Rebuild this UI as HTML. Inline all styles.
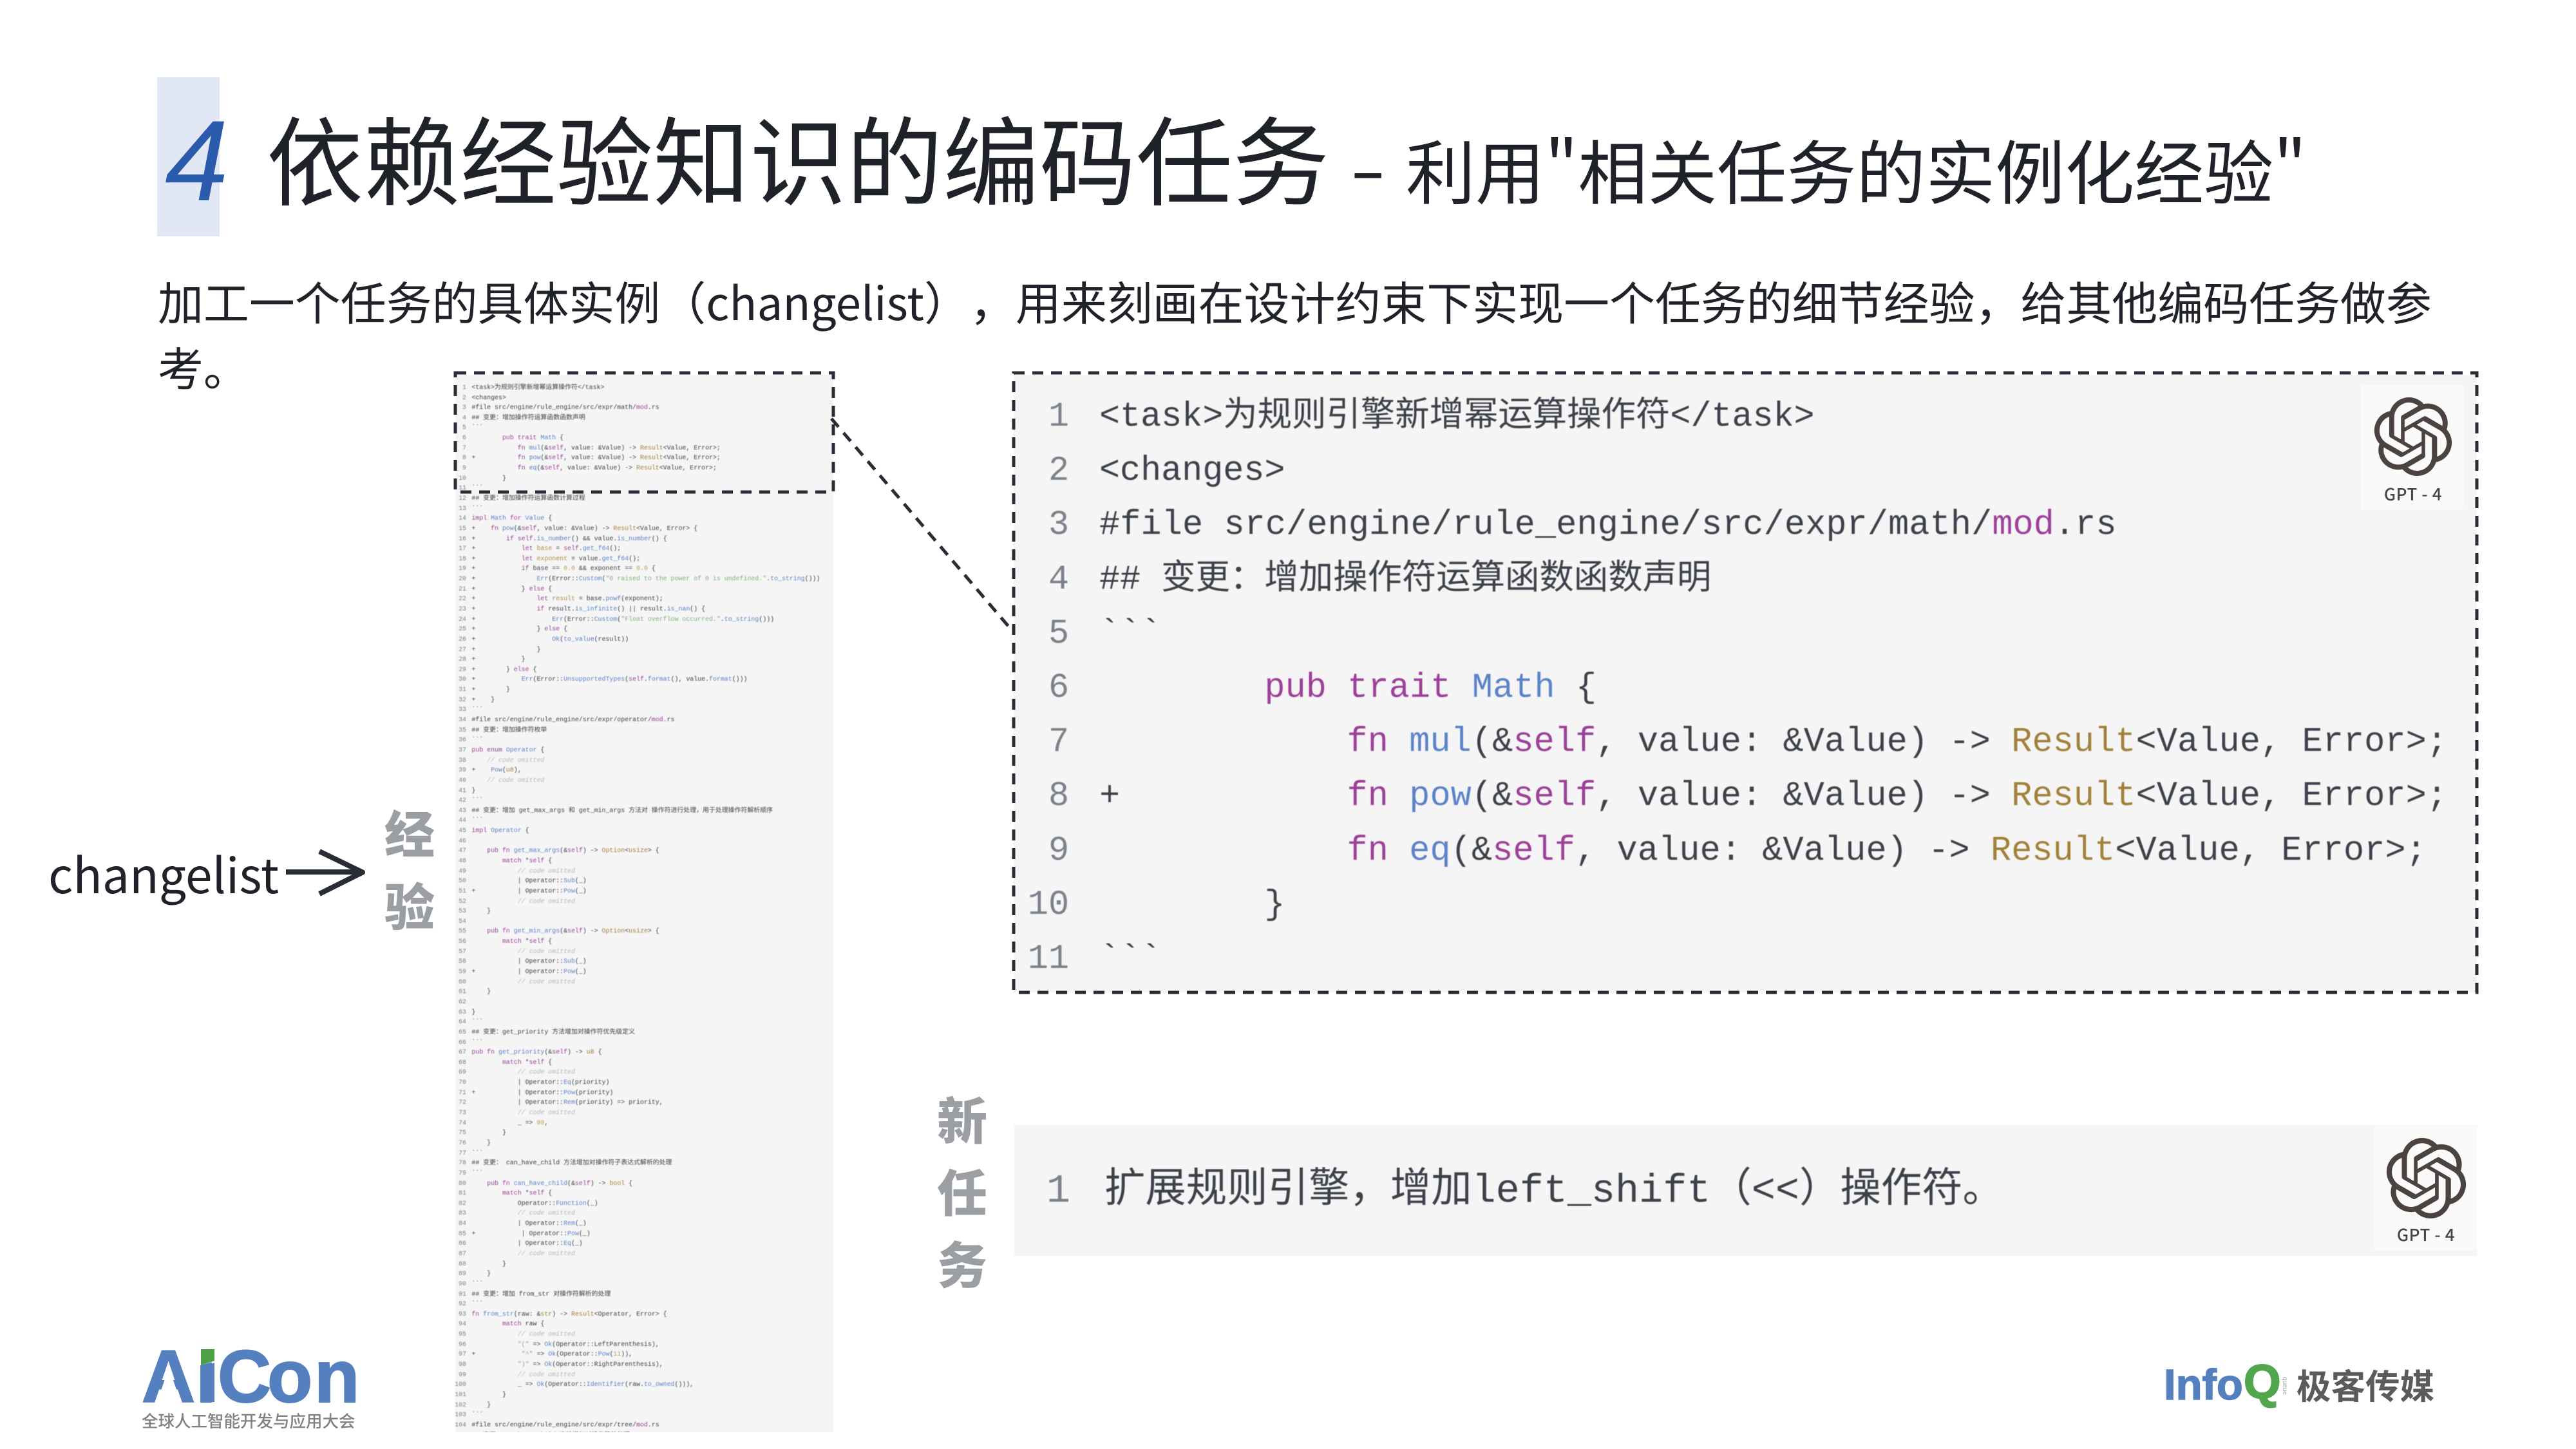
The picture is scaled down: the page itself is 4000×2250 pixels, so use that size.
<!DOCTYPE html>
<html lang="zh">
<head>
<meta charset="utf-8">
<title>依赖经验知识的编码任务</title>
<style>
html,body{margin:0;padding:0;background:#fff}
#p{position:relative;width:4000px;height:2250px;overflow:hidden;background:#fff;font-family:"Liberation Sans","Noto Sans CJK SC",sans-serif;color:#1f2329;text-spacing-trim:space-all}
#p>*{position:absolute}
.cjk{font-family:"Noto Sans CJK SC","Liberation Sans",sans-serif;white-space:pre;text-spacing-trim:space-all}
pre{margin:0;font-family:"Liberation Mono","Noto Sans CJK SC",monospace;color:#3c4048;text-spacing-trim:space-all}
i{font-style:normal}
.k{color:#9b3f98}.f{color:#5a82c8}.t{color:#a1803a}.s{color:#80b27c}.c{color:#b4b7bb;font-style:italic}.n{color:#bd9a4e}.v{color:#b58a4c}
.gut{color:#7b8189;text-align:right}
.sm{font-size:9.92px;line-height:15.645px;filter:blur(.45px)}
.bg{font-size:53.4px;line-height:84.2px;filter:blur(.4px)}
.w{letter-spacing:.2px}
.side{font-family:"Noto Sans CJK SC",sans-serif;font-weight:900;font-size:78px;line-height:78px;color:#9b9ea3;width:90px;text-align:center}
.gl{background:#fafafa}
.gt{font-family:"Noto Sans CJK SC",sans-serif;font-size:26px;line-height:30px;color:#4a4543;text-align:center;white-space:pre;font-weight:500;letter-spacing:.6px}
</style>
</head>
<body>
<div id="p">

<!-- header -->
<div style="left:244px;top:120px;width:97px;height:247px;background:#e1e7f5"></div>
<div style="left:256px;top:161px;font:italic 400 178px/178px 'Liberation Sans',sans-serif;color:#2a5bad">4</div>
<div class="cjk" style="left:414px;top:168px;font-size:150px;line-height:150px;color:#1f2329">依赖经验知识的编码任务</div>
<div class="cjk" style="left:2096px;top:203px;font-size:108px;line-height:108px;color:#1f2329;transform:scaleX(1.5);transform-origin:left center">-</div>
<div class="cjk" style="left:2183px;top:208px;font-size:108px;line-height:108px;color:#1f2329">利用"相关任务的实例化经验"</div>

<div class="cjk" style="left:245px;top:428px;font-size:70.95px;line-height:78px;color:#1f2329">加工一个任务的具体实例（changelist），用来刻画在设计约束下实现一个任务的细节经验，给其他编码任务做参</div>
<div class="cjk" style="left:245px;top:530px;font-size:70.95px;line-height:78px;color:#1f2329">考。</div>

<!-- changelist label -->
<div class="cjk" style="left:75px;top:1305px;font-size:75px;line-height:100px;color:#1f2329">changelist</div>
<svg style="left:0;top:0" width="4000" height="2250" viewBox="0 0 4000 2250">
  <path d="M444 1354H562" stroke="#282c34" stroke-width="8" fill="none"/>
  <path d="M496 1322L563 1354.500L496 1388" stroke="#282c34" stroke-width="8" fill="none" stroke-linejoin="round"/>
</svg>
<div class="side" style="left:591px;top:1252px">经</div>
<div class="side" style="left:591px;top:1365px">验</div>

<!-- left code image -->
<div style="left:707px;top:582px;width:587px;height:1642px;background:#f5f5f5"></div>
<div style="left:690px;top:582px;width:604px;height:1642px;overflow:hidden">
<pre class="sm gut" style="position:absolute;left:0;top:11.900px;width:34px">1
2
3
4
5
6
7
8
9
10
11
12
13
14
15
16
17
18
19
20
21
22
23
24
25
26
27
28
29
30
31
32
33
34
35
36
37
38
39
40
41
42
43
44
45
46
47
48
49
50
51
52
53
54
55
56
57
58
59
60
61
62
63
64
65
66
67
68
69
70
71
72
73
74
75
76
77
78
79
80
81
82
83
84
85
86
87
88
89
90
91
92
93
94
95
96
97
98
99
100
101
102
103
104
105</pre>
<pre class="sm" style="position:absolute;left:42.400px;top:11.900px">&lt;task&gt;为规则引擎新增幂运算操作符&lt;/task&gt;
&lt;changes&gt;
#file src/engine/rule_engine/src/expr/math/<i class=k>mod</i>.rs
## 变更：增加操作符运算函数函数声明
&#96;&#96;&#96;
        <i class=k>pub trait</i> <i class=f>Math</i> {
            <i class=k>fn</i> <i class=f>mul</i>(&amp;<i class=k>self</i>, value: &amp;Value) -&gt; <i class=t>Result</i>&lt;Value, Error&gt;;
+           <i class=k>fn</i> <i class=f>pow</i>(&amp;<i class=k>self</i>, value: &amp;Value) -&gt; <i class=t>Result</i>&lt;Value, Error&gt;;
            <i class=k>fn</i> <i class=f>eq</i>(&amp;<i class=k>self</i>, value: &amp;Value) -&gt; <i class=t>Result</i>&lt;Value, Error&gt;;
        }
&#96;&#96;&#96;
## 变更：增加操作符运算函数计算过程
&#96;&#96;&#96;
<i class=k>impl</i> <i class=f>Math</i> <i class=k>for</i> <i class=f>Value</i> {
+    <i class=k>fn</i> <i class=f>pow</i>(&amp;<i class=k>self</i>, value: &amp;Value) -&gt; <i class=t>Result</i>&lt;Value, Error&gt; {
+        <i class=k>if self</i>.<i class=f>is_number</i>() &amp;&amp; value.<i class=f>is_number</i>() {
+            <i class=k>let</i> <i class=v>base</i> = <i class=k>self</i>.<i class=f>get_f64</i>();
+            <i class=k>let</i> <i class=v>exponent</i> = value.<i class=f>get_f64</i>();
+            <i class=k>if</i> base == <i class=n>0.0</i> &amp;&amp; exponent == <i class=n>0.0</i> {
+                <i class=f>Err</i>(Error::<i class=f>Custom</i>(<i class=s>"0 raised to the power of 0 is undefined."</i>.<i class=f>to_string</i>()))
+            } <i class=k>else</i> {
+                <i class=k>let</i> <i class=v>result</i> = base.<i class=f>powf</i>(exponent);
+                <i class=k>if</i> result.<i class=f>is_infinite</i>() || result.<i class=f>is_nan</i>() {
+                    <i class=f>Err</i>(Error::<i class=f>Custom</i>(<i class=s>"Float overflow occurred."</i>.<i class=f>to_string</i>()))
+                } <i class=k>else</i> {
+                    <i class=f>Ok</i>(<i class=f>to_value</i>(result))
+                }
+            }
+        } <i class=k>else</i> {
+            <i class=f>Err</i>(Error::<i class=f>UnsupportedTypes</i>(<i class=k>self</i>.<i class=f>format</i>(), value.<i class=f>format</i>()))
+        }
+    }
&#96;&#96;&#96;
#file src/engine/rule_engine/src/expr/operator/<i class=k>mod</i>.rs
## 变更：增加操作符枚举
&#96;&#96;&#96;
<i class=k>pub enum</i> <i class=f>Operator</i> {
    <i class=c>// code omitted</i>
+    <i class=f>Pow</i>(<i class=t>u8</i>),
    <i class=c>// code omitted</i>
}
&#96;&#96;&#96;
## 变更：增加 get_max_args 和 get_min_args 方法对 操作符进行处理，用于处理操作符解析顺序
&#96;&#96;&#96;
<i class=k>impl</i> <i class=f>Operator</i> {

    <i class=k>pub fn</i> <i class=f>get_max_args</i>(&amp;<i class=k>self</i>) -&gt; <i class=t>Option</i>&lt;<i class=t>usize</i>&gt; {
        <i class=k>match</i> *<i class=k>self</i> {
            <i class=c>// code omitted</i>
            | Operator::<i class=f>Sub</i>(_)
+           | Operator::<i class=f>Pow</i>(_)
            <i class=c>// code omitted</i>
    }

    <i class=k>pub fn</i> <i class=f>get_min_args</i>(&amp;<i class=k>self</i>) -&gt; <i class=t>Option</i>&lt;<i class=t>usize</i>&gt; {
        <i class=k>match</i> *<i class=k>self</i> {
            <i class=c>// code omitted</i>
            | Operator::<i class=f>Sub</i>(_)
+           | Operator::<i class=f>Pow</i>(_)
            <i class=c>// code omitted</i>
    }

}
&#96;&#96;&#96;
## 变更：get_priority 方法增加对操作符优先级定义
&#96;&#96;&#96;
<i class=k>pub fn</i> <i class=f>get_priority</i>(&amp;<i class=k>self</i>) -&gt; <i class=t>u8</i> {
        <i class=k>match</i> *<i class=k>self</i> {
            <i class=c>// code omitted</i>
            | Operator::<i class=f>Eq</i>(priority)
+           | Operator::<i class=f>Pow</i>(priority)
            | Operator::<i class=f>Rem</i>(priority) =&gt; priority,
            <i class=c>// code omitted</i>
            _ =&gt; <i class=n>99</i>,
        }
    }
&#96;&#96;&#96;
## 变更： can_have_child 方法增加对操作符子表达式解析的处理
&#96;&#96;&#96;
    <i class=k>pub fn</i> <i class=f>can_have_child</i>(&amp;<i class=k>self</i>) -&gt; <i class=t>bool</i> {
        <i class=k>match</i> *<i class=k>self</i> {
            Operator::<i class=f>Function</i>(_)
            <i class=c>// code omitted</i>
            | Operator::<i class=f>Rem</i>(_)
+            | Operator::<i class=f>Pow</i>(_)
            | Operator::<i class=f>Eq</i>(_)
            <i class=c>// code omitted</i>
        }
    }
&#96;&#96;&#96;
## 变更：增加 from_str 对操作符解析的处理
&#96;&#96;&#96;
<i class=k>fn</i> <i class=f>from_str</i>(raw: &amp;<i class=t>str</i>) -&gt; <i class=t>Result</i>&lt;Operator, Error&gt; {
        <i class=k>match</i> raw {
            <i class=c>// code omitted</i>
            <i class=s>"("</i> =&gt; <i class=f>Ok</i>(Operator::LeftParenthesis),
+            <i class=s>"^"</i> =&gt; <i class=f>Ok</i>(Operator::<i class=f>Pow</i>(<i class=n>11</i>)),
            <i class=s>")"</i> =&gt; <i class=f>Ok</i>(Operator::RightParenthesis),
            <i class=c>// code omitted</i>
            _ =&gt; <i class=f>Ok</i>(Operator::<i class=f>Identifier</i>(raw.<i class=f>to_owned</i>())),
        }
    }
&#96;&#96;&#96;
#file src/engine/rule_engine/src/expr/tree/<i class=k>mod</i>.rs
## 变更：can_have_child 方法增加对操作符的处理</pre>
</div>

<!-- right big code -->
<div style="left:1574px;top:582px;width:2272px;height:959px;background:#f5f5f5"></div>
<pre class="bg gut" style="left:1582px;top:606px;width:78px">1
2
3
4
5
6
7
8
9
10
11</pre>
<pre class="bg" style="left:1707px;top:606px">&lt;task&gt;为规则引擎新增幂运算操作符&lt;/task&gt;
&lt;changes&gt;
<span class=w>#file src/engine/rule_engine/src/expr/math/<i class=k>mod</i>.rs</span>
## 变更：增加操作符运算函数函数声明
&#96;&#96;&#96;
        <span class=w><i class=k>pub trait</i> <i class=f>Math</i> {</span>
            <span class=w><i class=k>fn</i> <i class=f>mul</i>(&amp;<i class=k>self</i>, value: &amp;Value) -&gt; <i class=t>Result</i>&lt;Value, Error&gt;;</span>
+           <span class=w><i class=k>fn</i> <i class=f>pow</i>(&amp;<i class=k>self</i>, value: &amp;Value) -&gt; <i class=t>Result</i>&lt;Value, Error&gt;;</span>
            <span class=w><i class=k>fn</i> <i class=f>eq</i>(&amp;<i class=k>self</i>, value: &amp;Value) -&gt; <i class=t>Result</i>&lt;Value, Error&gt;;</span>
        }
&#96;&#96;&#96;</pre>

<div class="gl" style="left:3666px;top:598px;width:159px;height:193px"></div>
<svg style="left:3686px;top:617px" width="122" height="122" viewBox="0 0 24 24"><path fill="#4a4340" d="M22.2819 9.8211a5.9847 5.9847 0 0 0-.5157-4.9108 6.0462 6.0462 0 0 0-6.5098-2.9A6.0651 6.0651 0 0 0 4.9807 4.1818a5.9847 5.9847 0 0 0-3.9977 2.9 6.0462 6.0462 0 0 0 .7427 7.0966 5.98 5.98 0 0 0 .511 4.9107 6.051 6.051 0 0 0 6.5146 2.9001A5.9847 5.9847 0 0 0 13.2599 24a6.0557 6.0557 0 0 0 5.7718-4.2058 5.9894 5.9894 0 0 0 3.9977-2.9001 6.0557 6.0557 0 0 0-.7475-7.0729zm-9.022 12.6081a4.4755 4.4755 0 0 1-2.8764-1.0408l.1419-.0804 4.7783-2.7582a.7948.7948 0 0 0 .3927-.6813v-6.7369l2.02 1.1686a.071.071 0 0 1 .038.052v5.5826a4.504 4.504 0 0 1-4.4945 4.4944zm-9.6607-4.1254a4.4708 4.4708 0 0 1-.5346-3.0137l.142.0852 4.783 2.7582a.7712.7712 0 0 0 .7806 0l5.8428-3.3685v2.3324a.0804.0804 0 0 1-.0332.0615L9.74 19.9502a4.4992 4.4992 0 0 1-6.1408-1.6464zM2.3408 7.8956a4.485 4.485 0 0 1 2.3655-1.9728V11.6a.7664.7664 0 0 0 .3879.6765l5.8144 3.3543-2.0201 1.1685a.0757.0757 0 0 1-.071 0l-4.8303-2.7865A4.504 4.504 0 0 1 2.3408 7.872zm16.5963 3.8558L13.1038 8.364 15.1192 7.2a.0757.0757 0 0 1 .071 0l4.8303 2.7913a4.4944 4.4944 0 0 1-.6765 8.1042v-5.6772a.79.79 0 0 0-.407-.667zm2.0107-3.0231l-.142-.0852-4.7735-2.7818a.7759.7759 0 0 0-.7854 0L9.409 9.2297V6.8974a.0662.0662 0 0 1 .0284-.0615l4.8303-2.7866a4.4992 4.4992 0 0 1 6.6802 4.66zM8.3065 12.863l-2.02-1.1638a.0804.0804 0 0 1-.038-.0567V6.0742a4.4992 4.4992 0 0 1 7.3757-3.4537l-.142.0805L8.704 5.459a.7948.7948 0 0 0-.3927.6813zm1.0976-2.3654l2.602-1.4998 2.6069 1.4998v2.9994l-2.5974 1.4997-2.6067-1.4997Z"/></svg>
<div class="gt" style="left:3666px;top:752px;width:162px">GPT - 4</div>

<!-- new task -->
<div class="side" style="left:1449px;top:1697px">新</div>
<div class="side" style="left:1449px;top:1809px">任</div>
<div class="side" style="left:1449px;top:1921px">务</div>

<div style="left:1575px;top:1747px;width:2272px;height:203px;background:#f5f5f5"></div>
<pre class="gut" style="left:1600px;top:1810px;width:62px;font-size:61.8px;line-height:80px;filter:blur(.4px)">1</pre>
<pre style="left:1715px;top:1810px;font-size:61.8px;line-height:80px;filter:blur(.4px)"><span style="font-size:63.400px">扩展规则引擎，增加</span>left_shift<span style="font-size:63.400px">（</span>&lt;&lt;<span style="font-size:63.400px">）操作符。</span></pre>
<div class="gl" style="left:3687px;top:1748px;width:160px;height:194px"></div>
<svg style="left:3705px;top:1767px" width="125" height="125" viewBox="0 0 24 24"><path fill="#4a4340" d="M22.2819 9.8211a5.9847 5.9847 0 0 0-.5157-4.9108 6.0462 6.0462 0 0 0-6.5098-2.9A6.0651 6.0651 0 0 0 4.9807 4.1818a5.9847 5.9847 0 0 0-3.9977 2.9 6.0462 6.0462 0 0 0 .7427 7.0966 5.98 5.98 0 0 0 .511 4.9107 6.051 6.051 0 0 0 6.5146 2.9001A5.9847 5.9847 0 0 0 13.2599 24a6.0557 6.0557 0 0 0 5.7718-4.2058 5.9894 5.9894 0 0 0 3.9977-2.9001 6.0557 6.0557 0 0 0-.7475-7.0729zm-9.022 12.6081a4.4755 4.4755 0 0 1-2.8764-1.0408l.1419-.0804 4.7783-2.7582a.7948.7948 0 0 0 .3927-.6813v-6.7369l2.02 1.1686a.071.071 0 0 1 .038.052v5.5826a4.504 4.504 0 0 1-4.4945 4.4944zm-9.6607-4.1254a4.4708 4.4708 0 0 1-.5346-3.0137l.142.0852 4.783 2.7582a.7712.7712 0 0 0 .7806 0l5.8428-3.3685v2.3324a.0804.0804 0 0 1-.0332.0615L9.74 19.9502a4.4992 4.4992 0 0 1-6.1408-1.6464zM2.3408 7.8956a4.485 4.485 0 0 1 2.3655-1.9728V11.6a.7664.7664 0 0 0 .3879.6765l5.8144 3.3543-2.0201 1.1685a.0757.0757 0 0 1-.071 0l-4.8303-2.7865A4.504 4.504 0 0 1 2.3408 7.872zm16.5963 3.8558L13.1038 8.364 15.1192 7.2a.0757.0757 0 0 1 .071 0l4.8303 2.7913a4.4944 4.4944 0 0 1-.6765 8.1042v-5.6772a.79.79 0 0 0-.407-.667zm2.0107-3.0231l-.142-.0852-4.7735-2.7818a.7759.7759 0 0 0-.7854 0L9.409 9.2297V6.8974a.0662.0662 0 0 1 .0284-.0615l4.8303-2.7866a4.4992 4.4992 0 0 1 6.6802 4.66zM8.3065 12.863l-2.02-1.1638a.0804.0804 0 0 1-.038-.0567V6.0742a4.4992 4.4992 0 0 1 7.3757-3.4537l-.142.0805L8.704 5.459a.7948.7948 0 0 0-.3927.6813zm1.0976-2.3654l2.602-1.4998 2.6069 1.4998v2.9994l-2.5974 1.4997-2.6067-1.4997Z"/></svg>
<div class="gt" style="left:3687px;top:1902px;width:160px">GPT - 4</div>

<!-- dashed outlines and connector -->
<svg style="left:0;top:0" width="4000" height="2250" viewBox="0 0 4000 2250" fill="none" stroke="#282c34" stroke-width="5" stroke-dasharray="17 12">
  <rect x="707" y="579" width="587" height="185"/>
  <rect x="1574" y="579" width="2272" height="962"/>
  <path d="M1291 650L1574 982"/>
</svg>

<!-- AiCon logo -->
<svg style="left:0;top:0" width="4000" height="2250" viewBox="0 0 4000 2250">
  <text x="220 304 338 415 488" y="2177" font-family="Liberation Sans" font-weight="700" font-size="115" fill="#5580c0" stroke="#5580c0" stroke-width="2">AiCon</text>
  <polygon points="262,2123 243,2181 282,2181" fill="#fff"/>
  <polygon points="308,2086 336,2086 336,2113 308,2121" fill="#fff"/>
  <polygon points="312,2095 333,2095 333,2113 312,2120" fill="#4ea046"/>
  <polygon points="312,2123 333,2116 333,2177 312,2177" fill="#5580c0"/>
</svg>
<div class="cjk" style="left:220px;top:2190px;font-size:25.500px;line-height:32px;color:#7f8184;font-weight:500">全球人工智能开发与应用大会</div>

<!-- InfoQ logo -->
<div style="left:3360px;top:2116px;font:700 67px/70px 'Liberation Sans',sans-serif;color:#5580c0;white-space:pre;-webkit-text-stroke:1.5px #5580c0">Info</div>
<div style="left:3484px;top:2111px;font:700 74px/70px 'Liberation Sans',sans-serif;color:#52a64e;white-space:pre;-webkit-text-stroke:2px #52a64e">Q</div>
<div style="left:3533px;top:2146px;font:400 10px/12px 'Liberation Sans',sans-serif;color:#9aa0a6;transform:rotate(90deg)">queue</div>
<div class="cjk" style="left:3566px;top:2122px;font-size:53.500px;line-height:56px;color:#5b5b5b;font-weight:700">极客传媒</div>

</div>
</body>
</html>
